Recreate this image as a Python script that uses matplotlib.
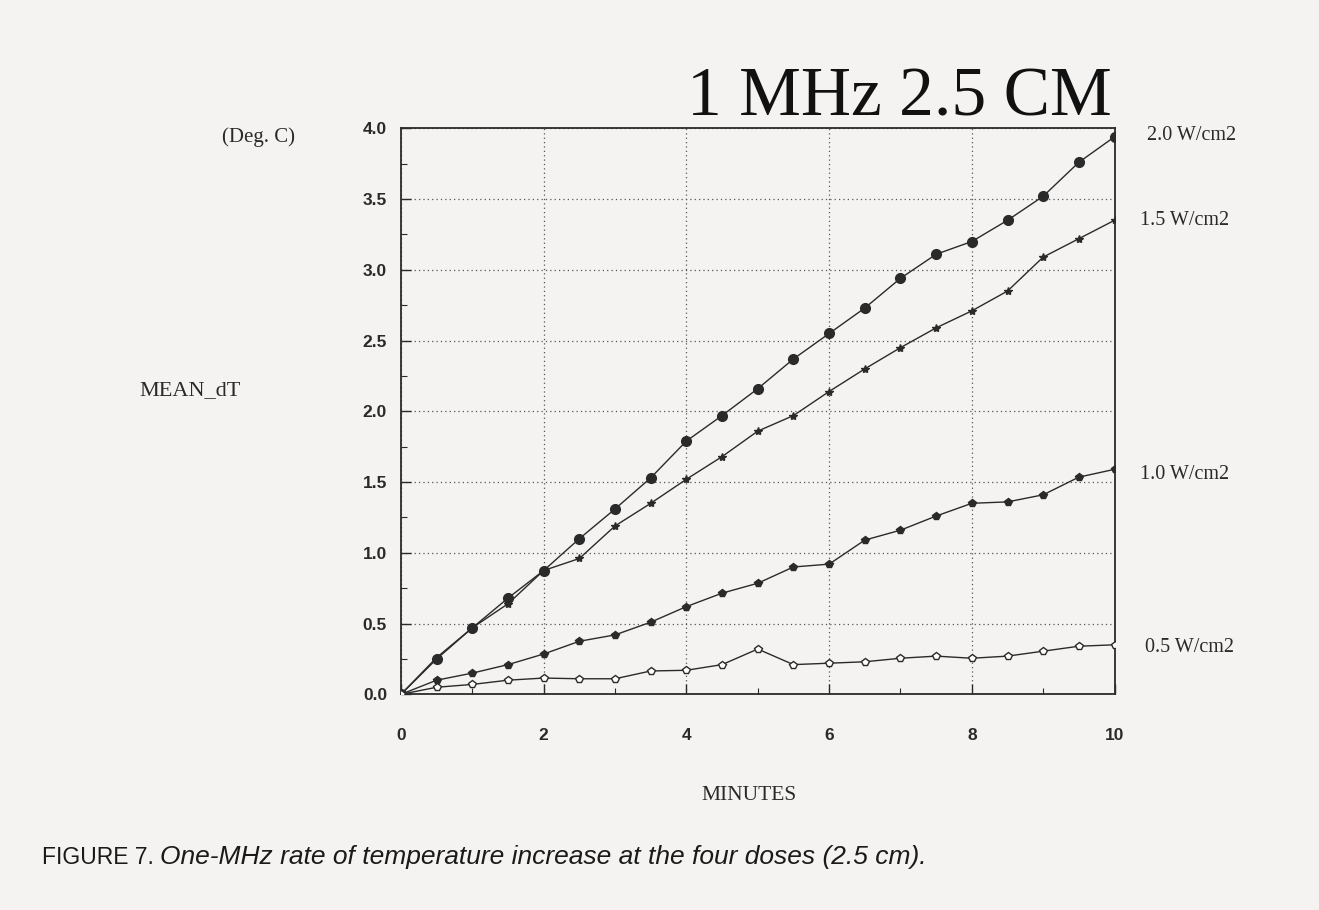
import matplotlib
matplotlib.use("Agg")
import matplotlib.pyplot as plt
from matplotlib.ticker import MultipleLocator

# minutes 0 .. 10 step 0.5
minutes = [0, 0.5, 1, 1.5, 2, 2.5, 3, 3.5, 4, 4.5, 5, 5.5, 6, 6.5, 7, 7.5, 8, 8.5, 9, 9.5, 10]

dt_20 = [0, 0.25, 0.47, 0.68, 0.875, 1.10, 1.31, 1.53, 1.79, 1.97, 2.16,
         2.37, 2.55, 2.73, 2.94, 3.11, 3.20, 3.35, 3.52, 3.76, 3.94]
dt_15 = [0, 0.26, 0.47, 0.64, 0.875, 0.96, 1.19, 1.35, 1.52, 1.68, 1.86,
         1.97, 2.14, 2.30, 2.45, 2.59, 2.71, 2.85, 3.09, 3.22, 3.35]
dt_10 = [0, 0.10, 0.15, 0.21, 0.285, 0.375, 0.42, 0.51, 0.62, 0.715, 0.785,
         0.90, 0.92, 1.09, 1.16, 1.26, 1.35, 1.36, 1.41, 1.535, 1.59]
dt_05 = [0, 0.05, 0.07, 0.10, 0.115, 0.11, 0.11, 0.165, 0.17, 0.21, 0.32,
         0.21, 0.22, 0.23, 0.255, 0.27, 0.255, 0.27, 0.305, 0.34, 0.35]

dose_labels = ["2.0 W/cm2", "1.5 W/cm2", "1.0 W/cm2", "0.5 W/cm2"]

PAPER = "#f4f3f1"
INK = "#2a2a2a"
SERIF = ["Liberation Serif", "DejaVu Serif"]
SANS = ["Liberation Sans", "DejaVu Sans"]

fig = plt.figure(figsize=(13.19, 9.10), dpi=100)
fig.patch.set_facecolor(PAPER)
ax = fig.add_axes([0.304, 0.237, 0.541, 0.622])
ax.set_facecolor(PAPER)

ax.plot(minutes, dt_20, color=INK, lw=1.0, marker="o", ms=7,
        mfc=INK, mec=INK, zorder=4)
ax.plot(minutes, dt_15, color=INK, lw=1.0, marker="*", ms=6,
        mfc=INK, mec=INK, zorder=4)
ax.plot(minutes, dt_10, color=INK, lw=1.0, marker="p", ms=5.5,
        mfc=INK, mec=INK, zorder=4)
ax.plot(minutes, dt_05, color=INK, lw=1.0, marker="p", ms=6,
        mfc="white", mec=INK, mew=1.0, zorder=4)

ax.set_xlim(0, 10)
ax.set_ylim(0, 4.0)
ax.xaxis.set_major_locator(MultipleLocator(2))
ax.xaxis.set_minor_locator(MultipleLocator(1))
ax.yaxis.set_major_locator(MultipleLocator(0.5))
ax.yaxis.set_minor_locator(MultipleLocator(0.25))
ax.grid(which="major", color="#555", linestyle=(0, (1, 2.5)), lw=0.9)
ax.tick_params(which="both", direction="in", color=INK)
ax.tick_params(which="major", length=7, width=1.0)
ax.tick_params(which="minor", length=4, width=0.8)
ax.tick_params(axis="x", pad=24)
ax.tick_params(axis="y", pad=10)
for s in ax.spines.values():
    s.set_color(INK)
    s.set_linewidth(1.3)

ax.set_xticklabels([f"{int(v)}" for v in ax.get_xticks()],
                   fontsize=12.5, fontweight="bold", family=SANS, color=INK)
ax.set_yticks([0, 0.5, 1.0, 1.5, 2.0, 2.5, 3.0, 3.5, 4.0])
ax.set_yticklabels([f"{v:.1f}" for v in ax.get_yticks()],
                   fontsize=12.5, fontweight="bold", family=SANS, color=INK)

# dose labels at the right end of each curve
label_x = [10.45, 10.35, 10.35, 10.42]
label_y = [3.95, 3.35, 1.55, 0.33]
for txt, xv, yv in zip(dose_labels, label_x, label_y):
    ax.text(xv, yv, txt, fontsize=14.5, family=SERIF, color=INK,
            va="center", ha="left", clip_on=False)

fig.text(0.682, 0.891, "1 MHz 2.5 CM", fontsize=50, family=SERIF,
         color="#111", ha="center", va="center")
fig.text(0.196, 0.849, "(Deg. C)", fontsize=15, family=SERIF,
         color=INK, ha="center", va="center")
fig.text(0.144, 0.571, "MEAN_dT", fontsize=16, family=SERIF,
         color=INK, ha="center", va="center")
fig.text(0.568, 0.126, "MINUTES", fontsize=15.5, family=SERIF,
         color=INK, ha="center", va="center")

fig.text(0.032, 0.058, "FIGURE 7.", fontsize=16.5, family=SANS,
         color="#1a1a1a", ha="left", va="center")
fig.text(0.121, 0.058,
         "One-MHz rate of temperature increase at the four doses (2.5 cm).",
         fontsize=19, family=SANS, style="italic",
         color="#1a1a1a", ha="left", va="center")

fig.savefig("out.png", dpi=100, facecolor=PAPER)
